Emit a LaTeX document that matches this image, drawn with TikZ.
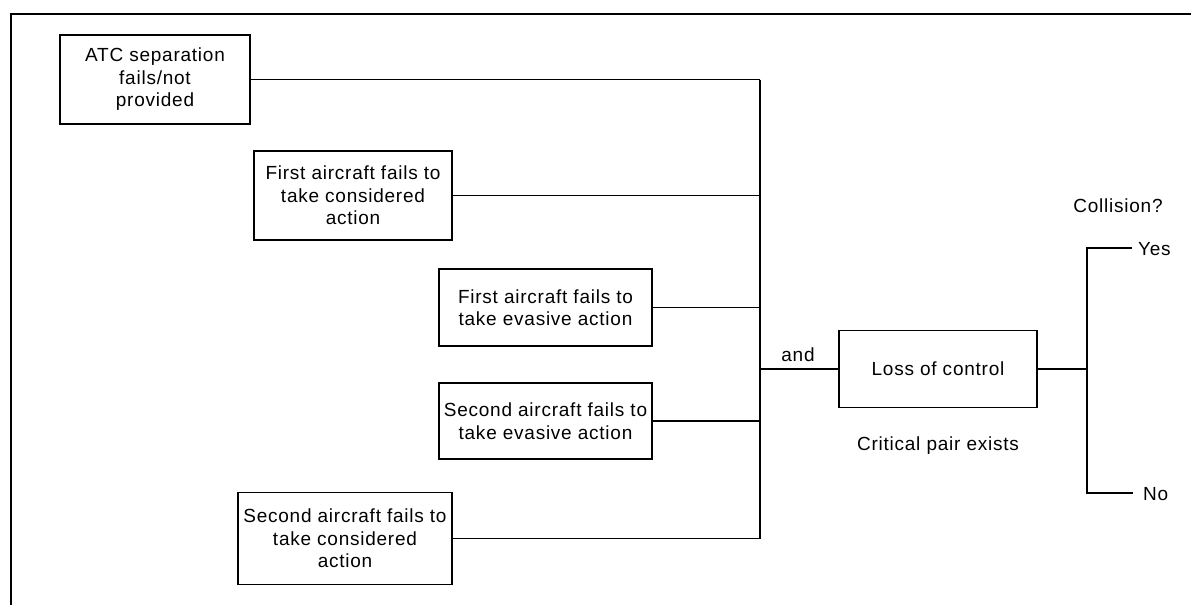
\documentclass[tikz,border=0pt]{standalone}
\usepackage{fontspec}
\setmainfont{Liberation Sans}[LetterSpace=4.0]
\begin{document}
\begin{tikzpicture}[x=1pt,y=-1pt,
  box/.style={draw, line width=1.7pt, align=center, inner sep=0pt,
    font=\fontsize{19}{22.5}\selectfont},
  conn/.style={line width=1.3pt},
  lbl/.style={inner sep=0pt, font=\fontsize{19}{22.5}\selectfont}]
\useasboundingbox (0,0) rectangle (1191,605);
% frame (top and left edges)
\draw[line width=1.8pt] (1191,14) -- (11,14) -- (11,605);
% event boxes
\node[box, minimum width=190pt, minimum height=89pt] (b1) at (155,79.5)
  {ATC separation\\fails/not\\provided};
\node[box, minimum width=198pt, minimum height=89pt] (b2) at (353,195.5)
  {First aircraft fails to\\take considered\\action};
\node[box, minimum width=213pt, minimum height=77pt] (b3) at (545.5,307.5)
  {First aircraft fails to\\take evasive action};
\node[box, minimum width=213pt, minimum height=76pt] (b4) at (545.5,421)
  {Second aircraft fails to\\take evasive action};
\node[box, minimum width=214pt, minimum height=92pt] (b5) at (345,538.5)
  {Second aircraft fails to\\take considered\\action};
\node[box, minimum width=198pt, minimum height=77pt] (loss) at (938,369)
  {Loss of control};
% labels
\node[lbl] (and) at (798,355) {and};
\node[lbl] (crit) at (938,446) {Critical pair exists};
\node[lbl] (coll) at (1118,206) {Collision?};
\node[lbl, anchor=west] (yes) at (1138,249) {Yes};
\node[lbl, anchor=west] (no) at (1143,494) {No};
% bus and decision coordinates
\coordinate (bus) at (760,0);
\coordinate (dec) at (1087,0);
\coordinate (yesend) at (1132,248);
\coordinate (noend) at (1133,493);
% connectors into the AND bus
\draw[conn] (b1.east) -- (b1.east -| bus);
\draw[conn] (b2.east) -- (b2.east -| bus);
\draw[conn] (b3.east) -- (b3.east -| bus);
\draw[conn] (b4.east) -- (b4.east -| bus);
\draw[conn] (b5.east) -- (b5.east -| bus);
\draw[conn] (b1.east -| bus) -- (b5.east -| bus);
\draw[conn] (loss.west -| bus) -- (loss.west);
% outcome branch
\draw[conn] (loss.east) -- (loss.east -| dec);
\draw[conn] (yesend) -- (yesend -| dec) -- (noend -| dec) -- (noend);
\end{tikzpicture}
\end{document}
